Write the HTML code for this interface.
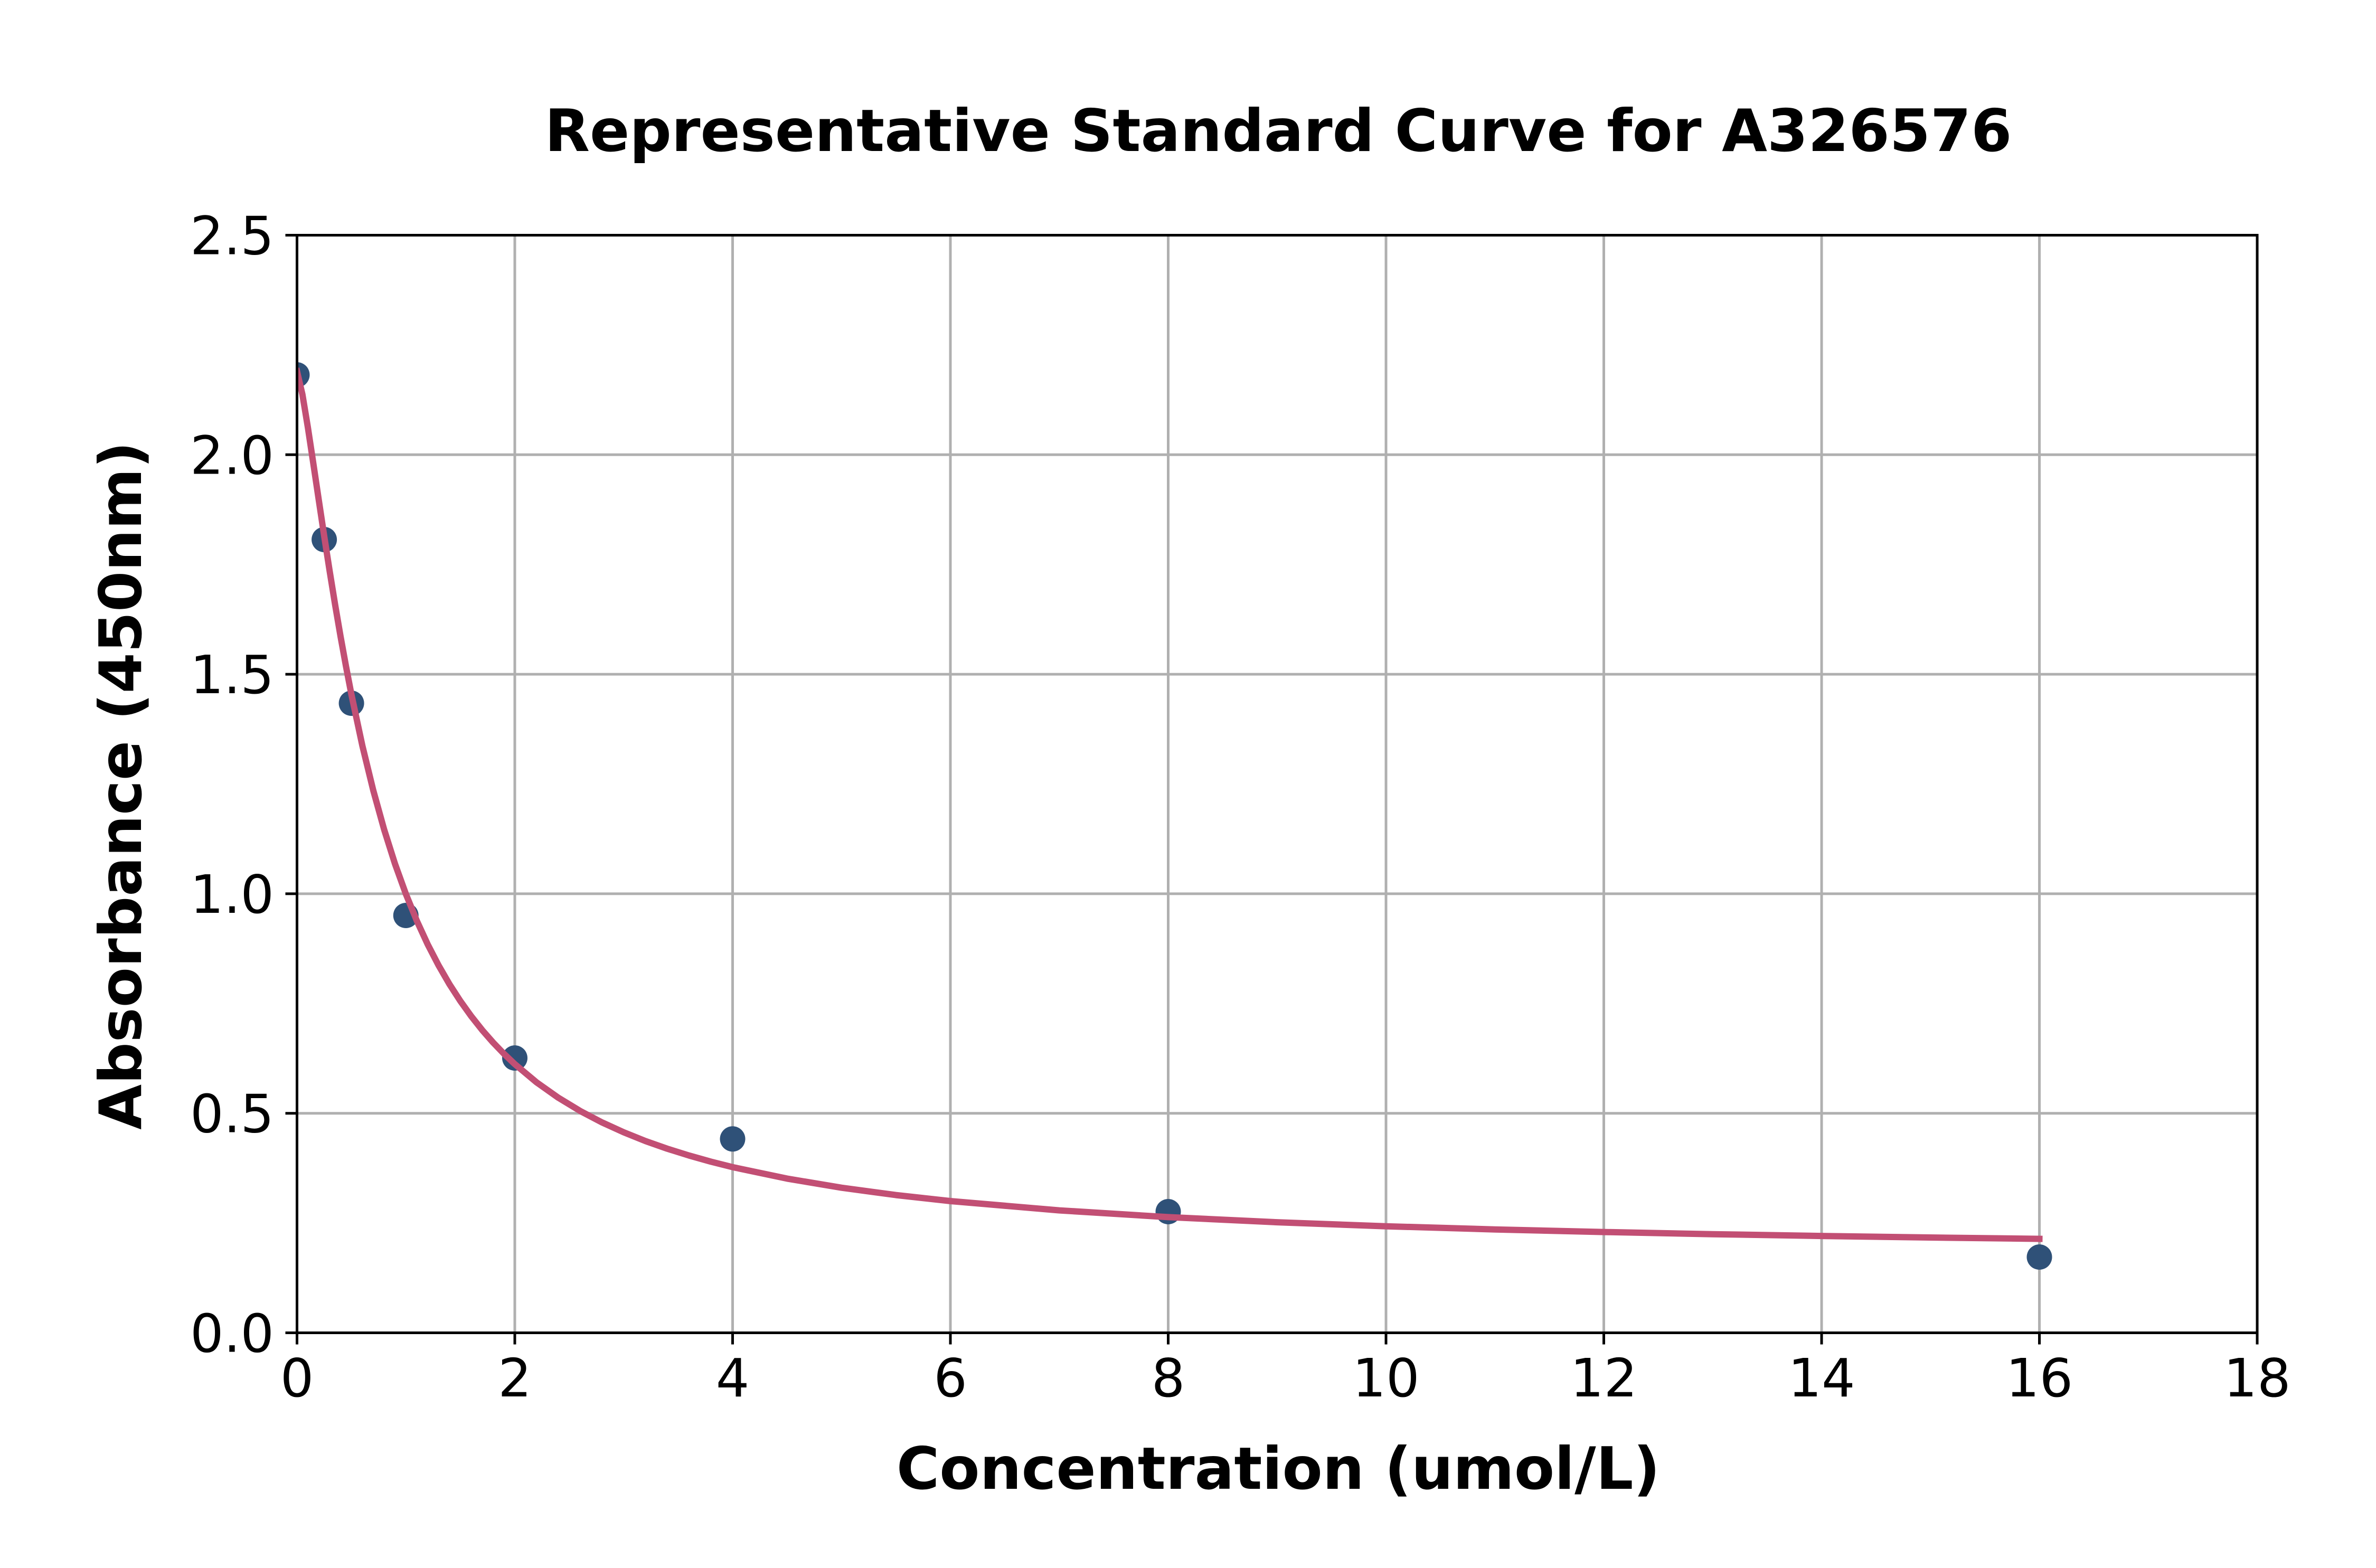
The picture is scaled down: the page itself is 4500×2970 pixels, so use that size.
<!DOCTYPE html>
<html>
<head>
<meta charset="utf-8">
<style>
  html, body { margin: 0; padding: 0; background: #ffffff; }
  svg { display: block; }
  text { font-family: "DejaVu Sans", "Liberation Sans", sans-serif; fill: #000; }
</style>
</head>
<body>
<svg width="4500" height="2970" viewBox="0 0 4500 2970" xmlns="http://www.w3.org/2000/svg">
  <rect x="0" y="0" width="4500" height="2970" fill="#ffffff"/>
  <defs>
    <clipPath id="ax">
      <rect x="562.5" y="445.5" width="3712.5" height="2079"/>
    </clipPath>
  </defs>

  <!-- grid -->
  <g stroke="#b0b0b0" stroke-width="5" fill="none">
    <line x1="975" y1="445.5" x2="975" y2="2524.5"/>
    <line x1="1387.5" y1="445.5" x2="1387.5" y2="2524.5"/>
    <line x1="1800" y1="445.5" x2="1800" y2="2524.5"/>
    <line x1="2212.5" y1="445.5" x2="2212.5" y2="2524.5"/>
    <line x1="2625" y1="445.5" x2="2625" y2="2524.5"/>
    <line x1="3037.5" y1="445.5" x2="3037.5" y2="2524.5"/>
    <line x1="3450" y1="445.5" x2="3450" y2="2524.5"/>
    <line x1="3862.5" y1="445.5" x2="3862.5" y2="2524.5"/>
    <line x1="562.5" y1="2108.7" x2="4275" y2="2108.7"/>
    <line x1="562.5" y1="1692.9" x2="4275" y2="1692.9"/>
    <line x1="562.5" y1="1277.1" x2="4275" y2="1277.1"/>
    <line x1="562.5" y1="861.3" x2="4275" y2="861.3"/>
  </g>

  <g clip-path="url(#ax)">
    <!-- data points -->
    <g fill="#2f5178">
      <circle cx="562.5" cy="710" r="24"/>
      <circle cx="614.1" cy="1022" r="24"/>
      <circle cx="665.6" cy="1332" r="24"/>
      <circle cx="768.75" cy="1734" r="24"/>
      <circle cx="975" cy="2004" r="24"/>
      <circle cx="1387.5" cy="2157.3" r="24"/>
      <circle cx="2212.5" cy="2295" r="24"/>
      <circle cx="3862.5" cy="2381" r="24"/>
    </g>
    <!-- fitted curve -->
    <polyline fill="none" stroke="#c24f74" stroke-width="12" stroke-linecap="square" stroke-linejoin="round"
      points="562.5,703.3 572.8,747.3 583.1,809.7 593.4,877.8 603.75,947.2 614.1,1016.0 624.4,1082.1 634.7,1145.5 645,1205.6 655.3,1262.2 665.6,1315.6 686.25,1412.3 706.9,1497.0 727.5,1571.2 748.1,1636.3 768.75,1693.5 789.4,1744.0 810,1788.7 830.6,1828.5 851.25,1864.2 871.9,1896.1 892.5,1924.9 913.1,1950.9 933.75,1974.5 954.4,1996.0 975,2015.6 1016.25,2050.1 1057.5,2079.3 1098.75,2104.3 1140,2125.9 1181.25,2144.7 1222.5,2161.3 1263.75,2175.8 1305,2188.7 1346.25,2200.3 1387.5,2210.7 1490.6,2232.4 1593.75,2249.7 1696.9,2263.6 1800,2275.0 2006.25,2292.6 2212.5,2305.4 2418.75,2315.1 2625,2322.7 2831.25,2328.7 3037.5,2333.6 3243.75,2337.7 3450,2341.1 3656.25,2344.0 3862.5,2346.5"/>
  </g>

  <!-- spines -->
  <rect x="562.5" y="445.5" width="3712.5" height="2079" fill="none" stroke="#000" stroke-width="5" stroke-linejoin="miter"/>

  <!-- ticks -->
  <g stroke="#000" stroke-width="5">
    <line x1="562.5" y1="2524.5" x2="562.5" y2="2546.5"/>
    <line x1="975" y1="2524.5" x2="975" y2="2546.5"/>
    <line x1="1387.5" y1="2524.5" x2="1387.5" y2="2546.5"/>
    <line x1="1800" y1="2524.5" x2="1800" y2="2546.5"/>
    <line x1="2212.5" y1="2524.5" x2="2212.5" y2="2546.5"/>
    <line x1="2625" y1="2524.5" x2="2625" y2="2546.5"/>
    <line x1="3037.5" y1="2524.5" x2="3037.5" y2="2546.5"/>
    <line x1="3450" y1="2524.5" x2="3450" y2="2546.5"/>
    <line x1="3862.5" y1="2524.5" x2="3862.5" y2="2546.5"/>
    <line x1="4275" y1="2524.5" x2="4275" y2="2546.5"/>
    <line x1="540.5" y1="2524.5" x2="562.5" y2="2524.5"/>
    <line x1="540.5" y1="2108.7" x2="562.5" y2="2108.7"/>
    <line x1="540.5" y1="1692.9" x2="562.5" y2="1692.9"/>
    <line x1="540.5" y1="1277.1" x2="562.5" y2="1277.1"/>
    <line x1="540.5" y1="861.3" x2="562.5" y2="861.3"/>
    <line x1="540.5" y1="445.5" x2="562.5" y2="445.5"/>
  </g>

  <!-- x tick labels -->
  <g font-size="100" text-anchor="middle">
    <text x="562.5" y="2645">0</text>
    <text x="975" y="2645">2</text>
    <text x="1387.5" y="2645">4</text>
    <text x="1800" y="2645">6</text>
    <text x="2212.5" y="2645">8</text>
    <text x="2625" y="2645">10</text>
    <text x="3037.5" y="2645">12</text>
    <text x="3450" y="2645">14</text>
    <text x="3862.5" y="2645">16</text>
    <text x="4275" y="2645">18</text>
  </g>

  <!-- y tick labels -->
  <g font-size="100" text-anchor="end">
    <text x="519" y="2560.5">0.0</text>
    <text x="519" y="2144.7">0.5</text>
    <text x="519" y="1728.9">1.0</text>
    <text x="519" y="1313.1">1.5</text>
    <text x="519" y="897.3">2.0</text>
    <text x="519" y="481.5">2.5</text>
  </g>

  <!-- title -->
  <text x="2421" y="286" font-size="111" font-weight="bold" text-anchor="middle">Representative Standard Curve for A326576</text>

  <!-- axis labels -->
  <text x="2421" y="2820" font-size="111" font-weight="bold" text-anchor="middle">Concentration (umol/L)</text>
  <text transform="translate(267,1488) rotate(-90)" x="0" y="0" font-size="111" font-weight="bold" text-anchor="middle">Absorbance (450nm)</text>
</svg>
</body>
</html>
